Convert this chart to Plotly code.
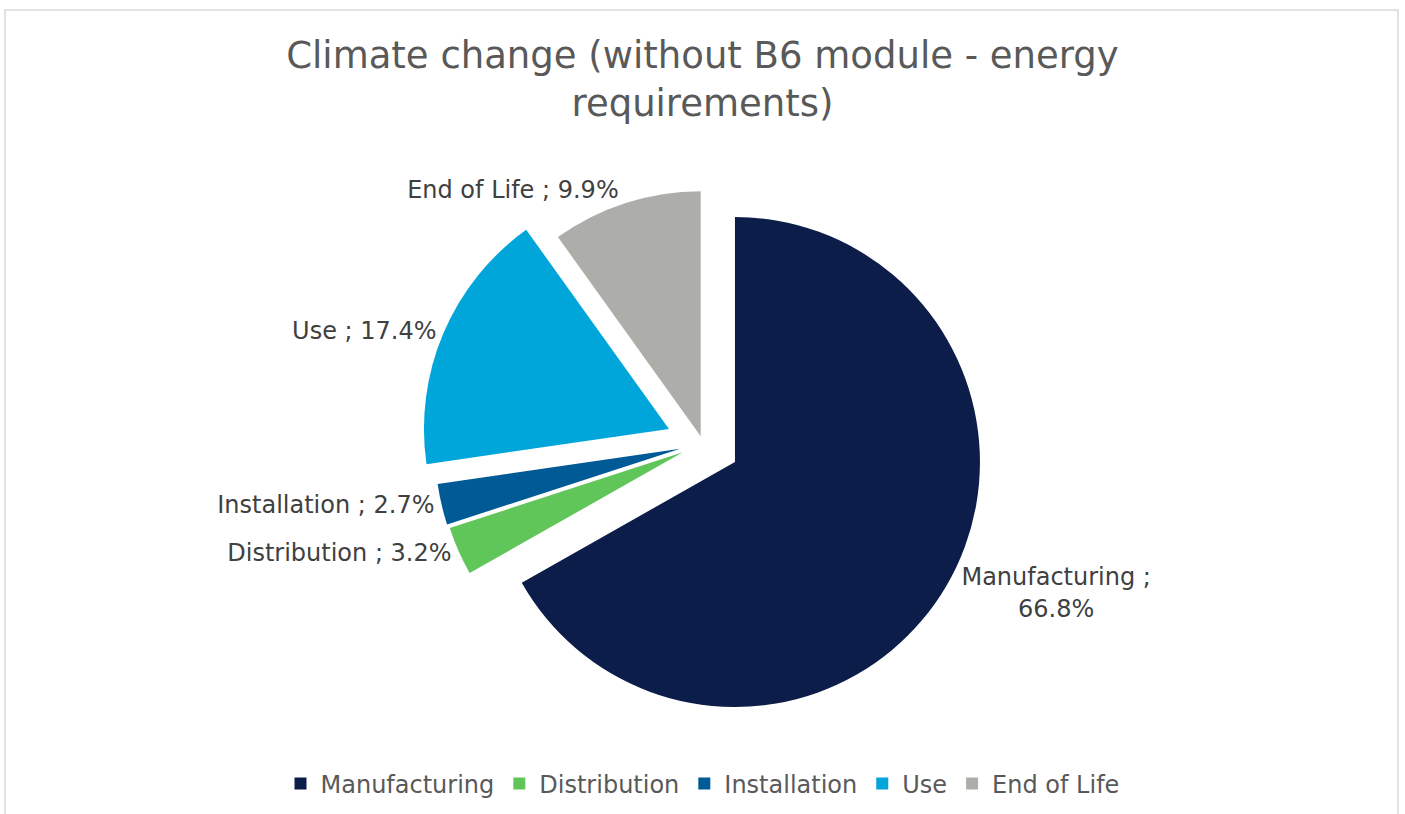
import plotly.graph_objects as go

# ---- data ----
categories = ["Manufacturing", "Distribution", "Installation", "Use", "End of Life"]
values = [66.8, 3.2, 2.7, 17.4, 9.9]
colors = ["#0B1D48", "#61C65A", "#005A96", "#00A5DA", "#ADAEA9"]
pulls = [0.151, 0.090, 0.096, 0.151, 0.031]
label_templates = [
    "%{label} ;<br>%{percent:.1%}",
    "%{label} ; %{percent:.1%}",
    "%{label} ; %{percent:.1%}",
    "%{label} ; %{percent:.1%}",
    "%{label} ; %{percent:.1%}",
]
title_text = "Climate change (without B6 module - energy<br>requirements)"

W, H = 1405, 814
FONT = "DejaVu Sans"

fig = go.Figure()
fig.add_trace(go.Pie(
    labels=categories,
    values=values,
    sort=False,
    direction="clockwise",
    rotation=0,
    pull=pulls,
    marker=dict(colors=colors, line=dict(width=0)),
    texttemplate=label_templates,
    textposition="outside",
    textfont=dict(family=FONT, size=24, color="#404040"),
    domain=dict(x=[0.29964, 0.70107], y=[0.10885, 0.80172]),
    hoverinfo="label+percent",
))

fig.update_layout(
    width=W, height=H,
    autosize=False,
    margin=dict(l=0, r=0, t=0, b=0),
    paper_bgcolor="white",
    plot_bgcolor="white",
    font=dict(family=FONT, color="#595959"),
    title=dict(
        text=title_text,
        x=0.5, xanchor="center",
        y=1 - 68 / H, yanchor="top", yref="container",
        font=dict(family=FONT, size=37, color="#595959"),
    ),
    showlegend=True,
    legend=dict(
        orientation="h",
        x=0.5, xanchor="center",
        y=(H - 784) / H, yanchor="middle",
        font=dict(family=FONT, size=24, color="#595959"),
        traceorder="normal",
    ),
    shapes=[dict(
        type="rect", xref="paper", yref="paper",
        x0=5 / W, x1=1398 / W, y0=-0.05, y1=1 - 10 / H,
        line=dict(color="#D9D9D9", width=1.5),
        fillcolor="rgba(0,0,0,0)",
        layer="below",
    )],
)

fig.write_html("out.html")
